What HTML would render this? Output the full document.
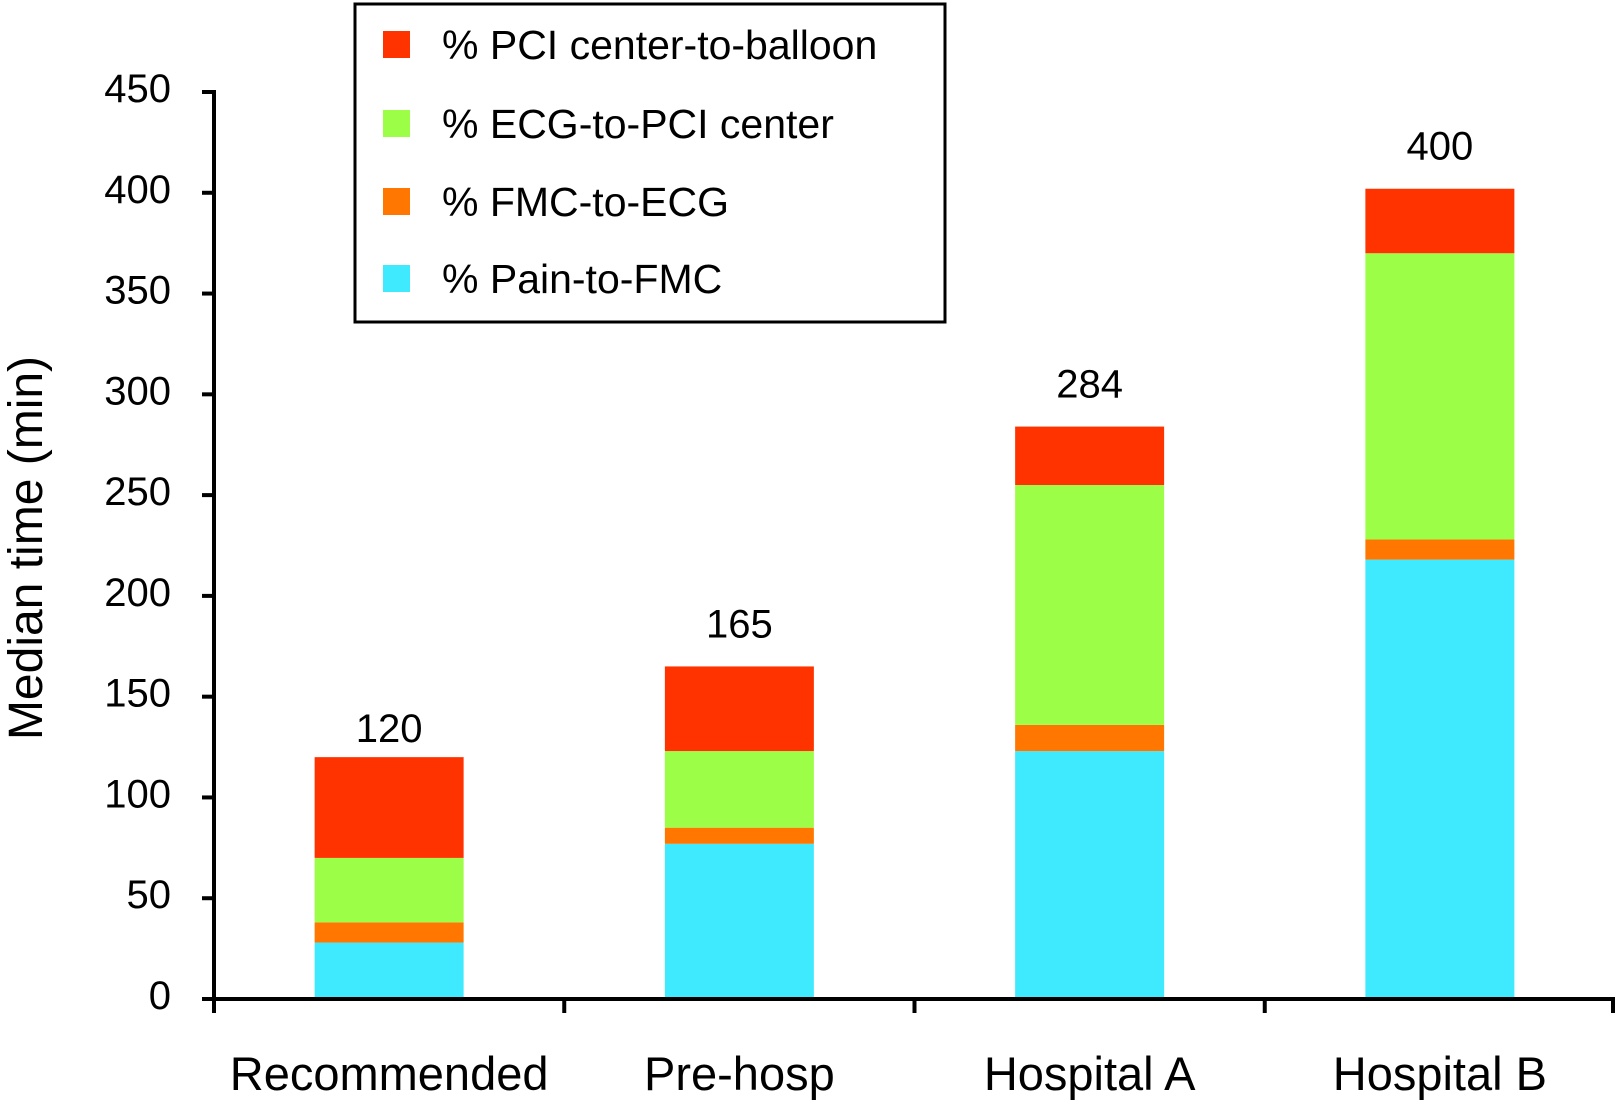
<!DOCTYPE html>
<html><head><meta charset="utf-8"><style>
html,body{margin:0;padding:0;background:#fff;}
svg{display:block;font-family:"Liberation Sans",Arial,sans-serif;}
</style></head><body>
<svg id="chart" width="1618" height="1111" viewBox="0 0 1618 1111">
<g id="plot"></g>
<g>
<rect x="355" y="4" width="590" height="318" fill="#fff" stroke="#000" stroke-width="3"/>
<rect x="383" y="31" width="27" height="27" fill="#ff3300"/>
<text x="442" y="59" font-size="41">% PCI center-to-balloon</text>
<rect x="383" y="110" width="27" height="27" fill="#9dfe47"/>
<text x="442" y="138" font-size="41">% ECG-to-PCI center</text>
<rect x="383" y="188" width="27" height="27" fill="#ff7700"/>
<text x="442" y="216" font-size="41">% FMC-to-ECG</text>
<rect x="383" y="265" width="27" height="27" fill="#40eafe"/>
<text x="442" y="293" font-size="41">% Pain-to-FMC</text>
</g>
<text transform="translate(42,548) rotate(-90)" text-anchor="middle" font-size="48">Median time (min)</text>
</svg>
<script>
const categories = ["Recommended","Pre-hosp","Hospital A","Hospital B"];
const painToFmc = [28, 77, 123, 218];
const fmcToEcg = [10, 8, 13, 10];
const ecgToPci = [32, 38, 119, 142];
const pciToBalloon = [50, 42, 29, 32];
const totals = [120, 165, 284, 400];
const yTicks = [0,50,100,150,200,250,300,350,400,450];

const NS = "http://www.w3.org/2000/svg";
const g = document.getElementById('plot');
const X0 = 214, X1 = 1615, Y0 = 999, Y450 = 92;
const yScale = v => Y0 - v * (Y0 - Y450) / 450;
const bandW = (X1 - X0) / categories.length;
const xCenter = i => X0 + bandW * (i + 0.5);
const BAR_W = 149;
function mk(tag, attrs){const e=document.createElementNS(NS,tag);for(const k in attrs)e.setAttribute(k,attrs[k]);g.appendChild(e);return e;}

const series = [
 {vals: painToFmc, color: "#40eafe", name: "pain-to-fmc"},
 {vals: fmcToEcg, color: "#ff7700", name: "fmc-to-ecg"},
 {vals: ecgToPci, color: "#9dfe47", name: "ecg-to-pci"},
 {vals: pciToBalloon, color: "#ff3300", name: "pci-to-balloon"}
];
categories.forEach((c, i) => {
  let base = 0;
  series.forEach(s => {
    const v = s.vals[i];
    const r = mk('rect', {x: xCenter(i) - BAR_W/2, y: yScale(base + v), width: BAR_W, height: yScale(base) - yScale(base + v), fill: s.color});
    
    
    base += v;
  });
  const t = mk('text', {x: xCenter(i), y: yScale(base) - (i === 0 ? 15 : 29), 'text-anchor': 'middle', 'font-size': 40});
  t.textContent = totals[i];
  
  
  const xl = mk('text', {x: xCenter(i), y: 1090, 'text-anchor': 'middle', 'font-size': 47});
  xl.textContent = c;
  
  
});
yTicks.forEach(v => {
  const y = yScale(v);
  const tk = mk('line', {x1: 202, x2: X0, y1: y, y2: y, stroke: '#000', 'stroke-width': 4});
  
  
  const tl = mk('text', {x: 171, y: y + 10, 'text-anchor': 'end', 'font-size': 40});
  tl.textContent = v;
  
  
});
for (let i = 0; i <= categories.length; i++) {
  const x = X0 + bandW * i - (i === categories.length ? 2 : 0);
  const tk = mk('line', {x1: x, x2: x, y1: Y0, y2: Y0 + 14, stroke: '#000', 'stroke-width': 4});
  
  
}
const ya = mk('line', {x1: X0, x2: X0, y1: Y450 - 2, y2: Y0 + 2, stroke: '#000', 'stroke-width': 4});


const xa = mk('line', {x1: X0 - 2, x2: X1, y1: Y0, y2: Y0, stroke: '#000', 'stroke-width': 4});


</script>
</body></html>
